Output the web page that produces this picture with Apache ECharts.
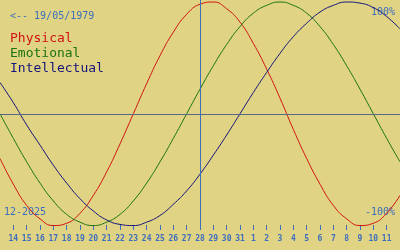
<!DOCTYPE html>
<html>
<head>
<meta charset="utf-8">
<script src="https://cdn.jsdelivr.net/npm/echarts@6/dist/echarts.min.js"></script>
<style>
html,body{margin:0;padding:0;background:#e0d383;}
#c{width:400px;height:250px;}
</style>
</head>
<body>
<div id="c"></div>
<script>
// Day labels (index 0 = 13 Dec 2025 ... index 30 = 12 Jan 2026)
const days = ['13','14','15','16','17','18','19','20','21','22','23','24','25','26','27','28','29','30','31',
              '1','2','3','4','5','6','7','8','9','10','11','12'];
const today = '28';
const physical = [-0.40,-0.63,-0.82,-0.94,-1.00,-0.98,-0.89,-0.73,-0.52,-0.27,0.00,0.27,0.52,0.73,0.89,0.98,
                  1.00,0.94,0.82,0.63,0.40,0.14,-0.14,-0.40,-0.63,-0.82,-0.94,-1.00,-0.98,-0.89,-0.73];
const emotional = [0.00,-0.22,-0.43,-0.62,-0.78,-0.90,-0.97,-1.00,-0.97,-0.90,-0.78,-0.62,-0.43,-0.22,0.00,
                   0.22,0.43,0.62,0.78,0.90,0.97,1.00,0.97,0.90,0.78,0.62,0.43,0.22,0.00,-0.22,-0.43];
const intellectual = [0.28,0.10,-0.10,-0.28,-0.46,-0.62,-0.76,-0.87,-0.95,-0.99,-1.00,-0.97,-0.91,-0.81,-0.69,
                      -0.54,-0.37,-0.19,0.00,0.19,0.37,0.54,0.69,0.81,0.91,0.97,1.00,0.99,0.95,0.87,0.76];
const seriesNames = ['Physical','Emotional','Intellectual'];
const birthLabel = '<-- 19/05/1979';
const monthLabel = '12-2025';
const topLabel = '100%';
const bottomLabel = '-100%';

const BLUE = '#3c6ebe';
const ZERO_COLOR = '#56698a';
const colors = ['#d01414','#1c7414','#14147c'];
const mono = '"DejaVu Sans Mono", "Liberation Mono", monospace';

const chart = echarts.init(document.getElementById('c'), null, {renderer:'canvas'});
const lineSeries = [physical, emotional, intellectual].map((d, i) => ({
  name: seriesNames[i],
  type: 'line',
  data: d,
  smooth: true,
  symbol: 'none',
  lineStyle: {color: colors[i], width: 1},
  z: 2
}));
lineSeries.push({
  type: 'line',
  data: [],
  markLine: {
    silent: true,
    symbol: 'none',
    label: {show: false},
    animation: false,
    data: [
      {yAxis: 0, lineStyle: {color: ZERO_COLOR, width: 1, type: 'solid'}},
      {xAxis: today, lineStyle: {color: BLUE, width: 1, type: 'solid'}}
    ]
  },
  z: 3
});

chart.setOption({
  backgroundColor: '#e0d383',
  animation: false,
  grid: {left: 0, right: 0, top: 0, bottom: 20},
  xAxis: {
    type: 'category',
    data: days,
    boundaryGap: false,
    axisLine: {show: false, onZero: false},
    axisTick: {show: true, inside: true, length: 5, lineStyle: {color: BLUE, width: 1},
               interval: (i) => i > 0 && i < days.length - 1},
    axisLabel: {show: true, color: BLUE, fontSize: 8, fontWeight: 'bold', fontFamily: mono, margin: 5,
                interval: (i) => i > 0 && i < days.length - 1},
    splitLine: {show: false}
  },
  yAxis: {
    type: 'value', min: -1.04, max: 1.018, show: false
  },
  series: lineSeries,
  graphic: [
    {type: 'text', left: 10, top: 11, style: {text: birthLabel, fill: BLUE, font: '10px ' + mono}},
    {type: 'text', left: 10, top: 32, style: {text: seriesNames[0], fill: colors[0], font: '13px ' + mono}},
    {type: 'text', left: 10, top: 47, style: {text: seriesNames[1], fill: colors[1], font: '13px ' + mono}},
    {type: 'text', left: 10, top: 62, style: {text: seriesNames[2], fill: colors[2], font: '13px ' + mono}},
    {type: 'text', right: 5, top: 7, style: {text: topLabel, fill: BLUE, font: '10px ' + mono}},
    {type: 'text', right: 5, top: 207, style: {text: bottomLabel, fill: BLUE, font: '10px ' + mono}},
    {type: 'text', left: 4, top: 207, style: {text: monthLabel, fill: BLUE, font: '10px ' + mono}}
  ]
});
</script>
</body>
</html>
